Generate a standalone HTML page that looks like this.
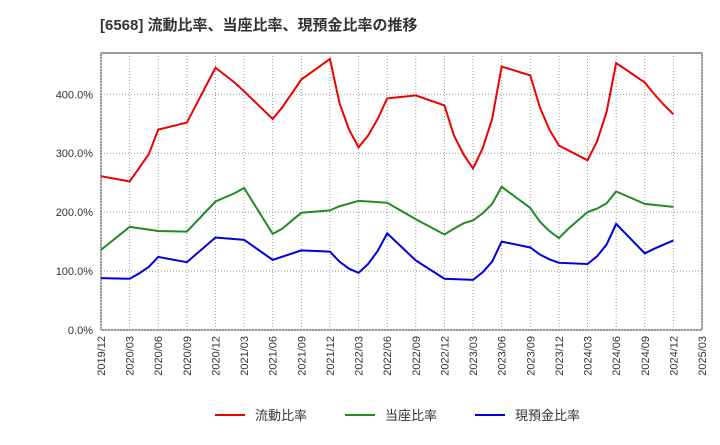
<!DOCTYPE html>
<html><head><meta charset="utf-8"><style>
body{margin:0;background:#fff;font-family:"Liberation Sans","Noto Sans CJK JP",sans-serif;}
svg text{font-family:"Liberation Sans","Noto Sans CJK JP",sans-serif;}
</style></head><body>
<svg id="c" width="720" height="440">
<text x="100" y="30" font-size="15" font-weight="bold" fill="#333">[6568]  流動比率、当座比率、現預金比率の推移</text>
<g id="grid"></g><g id="series"></g><g id="axes"></g>
<g>
<line x1="215" y1="415" x2="245" y2="415" stroke="#e00" stroke-width="2"/>
<text x="255" y="420" font-size="13" fill="#333">流動比率</text>
<line x1="345" y1="415" x2="375" y2="415" stroke="#228b22" stroke-width="2"/>
<text x="385" y="420" font-size="13" fill="#333">当座比率</text>
<line x1="475" y1="415" x2="505" y2="415" stroke="#00d" stroke-width="2"/>
<text x="515" y="420" font-size="13" fill="#333">現預金比率</text>
</g>
</svg>
<script>
const xTickLabels=["2019/12","2020/03","2020/06","2020/09","2020/12","2021/03","2021/06","2021/09","2021/12","2022/03","2022/06","2022/09","2022/12","2023/03","2023/06","2023/09","2023/12","2024/03","2024/06","2024/09","2024/12","2025/03"];
const yTicks=[0,100,200,300,400];
const redMonths=[0,3,4,5,6,9,12,14,15,18,19,21,24,25,26,27,28,29,30,33,36,37,38,39,40,41,42,45,46,47,48,51,52,53,54,57,58,59,60];
const redValues=[261,252,275,298,340,352,445,420,405,358,378,425,460,385,340,310,330,358,393,398,381,330,298,274,308,358,447,432,378,340,313,288,320,370,453,420,400,382,366];
const greenMonths=[0,3,6,9,12,14,15,18,19,21,24,25,27,30,33,36,37,38,39,40,41,42,45,46,47,48,49,50,51,52,53,54,57,60];
const greenValues=[136,175,168,167,218,232,241,163,172,199,203,210,219,216,188,162,172,181,186,198,214,243,207,184,168,156,172,186,200,206,215,235,214,209];
const blueMonths=[0,3,4,5,6,9,12,15,18,21,24,25,26,27,28,29,30,33,36,39,40,41,42,45,46,47,48,51,52,53,54,57,58,59,60];
const blueValues=[88,87,96,107,124,115,157,153,119,135,133,116,104,97,112,134,164,118,87,85,98,116,150,140,128,120,114,112,125,145,180,130,138,145,152];
const L=101,R=702,T=53,B=330,YMAX=470;
const xs=m=>L+m*(R-L)/63;
const ys=v=>B-v*(B-T)/YMAX;
const NS="http://www.w3.org/2000/svg";
function mk(p,t,a){const e=document.createElementNS(NS,t);for(const k in a)e.setAttribute(k,a[k]);p.appendChild(e);return e;}
const grid=document.getElementById('grid'),axes=document.getElementById('axes'),ser=document.getElementById('series');
const bg=mk(grid,'rect',{x:L,y:T,width:R-L,height:B-T,fill:'#fff',stroke:'#333'});


xTickLabels.forEach((lb,i)=>{const x=xs(i*3);
 const g=mk(grid,'line',{x1:x,y1:T,x2:x,y2:B,stroke:'#999','stroke-dasharray':'1,2'});
 
 
 const t=mk(axes,'text',{x:0,y:0,'font-size':11,fill:'#333','text-anchor':'end',transform:`translate(${x+4},${B+6}) rotate(-90)`});
 t.textContent=lb;
 
 });
yTicks.forEach(v=>{const y=ys(v);
 const g=mk(grid,'line',{x1:L,y1:y,x2:R,y2:y,stroke:'#999','stroke-dasharray':'1,2'});
 
 
 const t=mk(axes,'text',{x:L-8,y:y+4,'font-size':11,fill:'#333','text-anchor':'end'});
 t.textContent=v.toFixed(1)+'%';
 
 });
function line(ms,vs,col,name){const p=mk(ser,'polyline',{points:ms.map((m,i)=>xs(m)+','+ys(vs[i])).join(' '),fill:'none',stroke:col,'stroke-width':2});
 
 }
line(redMonths,redValues,'#e00','current-ratio-line');
line(greenMonths,greenValues,'#228b22','quick-ratio-line');
line(blueMonths,blueValues,'#00d','cash-ratio-line');
</script>
</body></html>
